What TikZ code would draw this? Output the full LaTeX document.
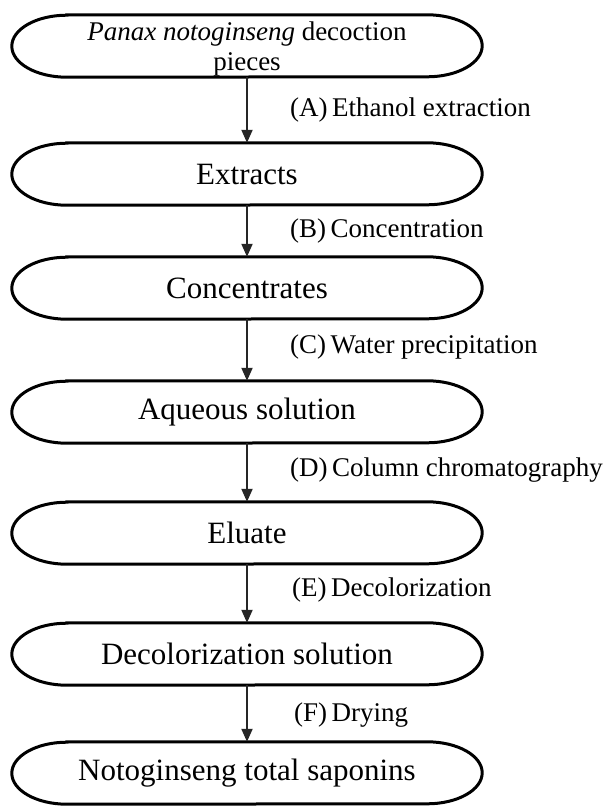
\documentclass[tikz,border=0pt]{standalone}
\usepackage{fontspec}
\setmainfont{Liberation Serif}
\usetikzlibrary{arrows.meta,calc}
\tikzset{
  proc/.style={minimum width=470pt, minimum height=62pt, inner sep=0pt, align=center,
    font=\fontsize{31pt}{36pt}\selectfont},
  outline/.style={line width=3pt, black},
  flow/.style={line width=2pt, black!85, -{Triangle[width=11pt,length=13pt]}},
  lbl/.style={anchor=west, inner sep=0pt, font=\fontsize{27pt}{30pt}\selectfont}
}
\begin{document}
\begin{tikzpicture}
\useasboundingbox (0pt,0pt) rectangle (611pt,-806pt);
\node[proc, font=\fontsize{27pt}{30pt}\selectfont] (n1) at (247pt,-46pt) {\raisebox{-3pt}[\height][\depth]{\begin{tabular}{@{}c@{}}\textit{Panax notoginseng} decoction\\pieces\end{tabular}}};
\node[proc] (n2) at (247pt,-174pt) {Extracts};
\node[proc] (n3) at (247pt,-288pt) {Concentrates};
\node[proc] (n4) at (247pt,-412pt) {Aqueous solution};
\node[proc] (n5) at (247pt,-533pt) {Eluate};
\node[proc] (n6) at (247pt,-654pt) {Decolorization solution};
\node[proc] (n7) at (247pt,-773pt) {Notoginseng total saponins};
\foreach \n in {n1,n2,n3,n4,n5,n6,n7}{
  \draw[outline] ($(\n.north west)+(55pt,0)$) -- ($(\n.north east)+(-55pt,0)$)
    arc[start angle=90, end angle=-90, x radius=55pt, y radius=31pt]
    -- ($(\n.south west)+(55pt,0)$)
    arc[start angle=270, end angle=90, x radius=55pt, y radius=31pt] -- cycle;
}
\draw[flow] (n1.south) -- (n2.north);
\draw[flow] (n2.south) -- (n3.north);
\draw[flow] (n3.south) -- (n4.north);
\draw[flow] (n4.south) -- (n5.north);
\draw[flow] (n5.south) -- (n6.north);
\draw[flow] (n6.south) -- (n7.north);
\node[lbl] (la) at (290pt,-110pt) {(A)\,Ethanol extraction};
\node[lbl] (lb) at (290pt,-231pt) {(B)\,Concentration};
\node[lbl] (lc) at (290pt,-347pt) {(C)\,Water precipitation};
\node[lbl] (ld) at (290pt,-470pt) {(D)\,Column chromatography};
\node[lbl] (le) at (292pt,-590pt) {(E)\,Decolorization};
\node[lbl] (lf) at (294pt,-715pt) {(F)\,Drying};
\end{tikzpicture}
\end{document}
